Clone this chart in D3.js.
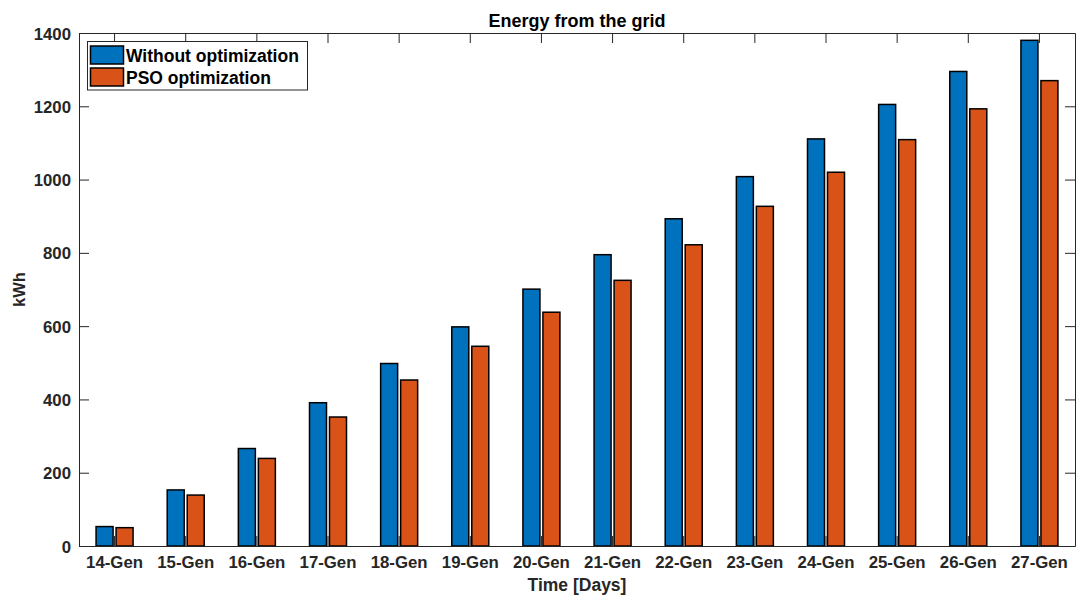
<!DOCTYPE html>
<html>
<head>
<meta charset="utf-8">
<script src="https://cdn.jsdelivr.net/npm/d3@7"></script>
<style>
  body { margin: 0; background: #fff; }
  svg { display: block; font-family: "Liberation Sans", Arial, sans-serif; font-weight: bold; }
</style>
</head>
<body>
<div id="chart"></div>
<script>
// Data
const days = ["14-Gen", "15-Gen", "16-Gen", "17-Gen", "18-Gen", "19-Gen", "20-Gen",
              "21-Gen", "22-Gen", "23-Gen", "24-Gen", "25-Gen", "26-Gen", "27-Gen"];
const series = ["Without optimization", "PSO optimization"];
const withoutOpt = [53, 153, 266, 391, 498, 598, 701, 795, 893, 1008, 1111, 1205, 1295, 1380];
const psoOpt = [50, 139, 239, 352, 453, 545, 638, 725, 822, 927, 1020, 1109, 1193, 1270];
const yTicks = [0, 200, 400, 600, 800, 1000, 1200, 1400];
const colors = ["#0072BD", "#D95319"];

const W = 1076, H = 597;
const margin = {top: 33, right: 1, bottom: 51, left: 79};
const width = W - margin.left - margin.right;
const height = H - margin.top - margin.bottom;

const svg = d3.select("#chart").append("svg")
    .attr("width", W)
    .attr("height", H);

const g = svg.append("g")
    .attr("transform", `translate(${margin.left},${margin.top})`);

// Scales
const x0 = d3.scaleBand().domain(days).range([0, width]);
const bw = x0.bandwidth();
const x1 = d3.scaleBand().domain(series)
    .range([bw / 2 - 18.5, bw / 2 + 18.5])
    .paddingInner(0.15);
const y = d3.scaleLinear().domain([0, 1400]).range([height, 0]);

const rows = days.map((d, i) => ({day: d, values: [withoutOpt[i], psoOpt[i]]}));

// Bars
g.selectAll(".group")
    .data(rows)
    .enter().append("g")
    .attr("class", "group")
    .attr("transform", d => `translate(${x0(d.day)},0)`)
    .selectAll("rect")
    .data(d => d.values.map((v, k) => ({key: series[k], value: v, k})))
    .enter().append("rect")
    .attr("x", d => x1(d.key))
    .attr("width", x1.bandwidth())
    .attr("y", d => y(d.value))
    .attr("height", d => y(0) - y(d.value))
    .attr("fill", d => colors[d.k])
    .attr("stroke", "#000")
    .attr("stroke-width", 1.5);

// Axes (MATLAB-style box with inward ticks)
const axisColor = "#262626";
const tickLen = 10;

const xb = g.append("g")
    .attr("transform", `translate(0,${height})`)
    .call(d3.axisBottom(x0).tickSizeInner(-tickLen).tickSizeOuter(0).tickPadding(10));
const xt = g.append("g")
    .call(d3.axisTop(x0).tickSizeInner(-tickLen).tickSizeOuter(0).tickFormat(""));
const yl = g.append("g")
    .call(d3.axisLeft(y).tickValues(yTicks).tickFormat(d3.format("d"))
        .tickSizeInner(-tickLen).tickSizeOuter(0).tickPadding(8));
const yr = g.append("g")
    .attr("transform", `translate(${width},0)`)
    .call(d3.axisRight(y).tickValues(yTicks).tickSizeInner(-tickLen).tickSizeOuter(0).tickFormat(""));

[xb, xt, yl, yr].forEach(a => {
    a.selectAll("path").attr("stroke", axisColor).attr("stroke-width", 1);
    a.selectAll("line").attr("stroke", axisColor).attr("stroke-width", 1);
    a.selectAll("text")
        .attr("fill", axisColor)
        .style("font-size", "16.8px")
        .style("font-weight", "bold")
        .style("font-family", "'Liberation Sans', Arial, sans-serif");
});
yl.selectAll("text").attr("dy", "0.36em");

// Title
svg.append("text")
    .attr("x", margin.left + width / 2)
    .attr("y", 27)
    .attr("text-anchor", "middle")
    .attr("fill", "#000")
    .style("font-size", "18px")
    .text("Energy from the grid");

// X label
svg.append("text")
    .attr("x", margin.left + width / 2)
    .attr("y", 591)
    .attr("text-anchor", "middle")
    .attr("fill", axisColor)
    .style("font-size", "17.5px")
    .text("Time [Days]");

// Y label
svg.append("text")
    .attr("transform", `translate(25,${margin.top + height / 2}) rotate(-90)`)
    .attr("text-anchor", "middle")
    .attr("fill", axisColor)
    .style("font-size", "16.5px")
    .text("kWh");

// Legend
const legend = svg.append("g");
legend.append("rect")
    .attr("x", 87.5).attr("y", 41.5)
    .attr("width", 220).attr("height", 48.5)
    .attr("fill", "#fff")
    .attr("stroke", axisColor)
    .attr("stroke-width", 1);

series.forEach((s, k) => {
    const ly = 46 + k * 22;
    legend.append("rect")
        .attr("x", 90.5).attr("y", ly)
        .attr("width", 33).attr("height", 18)
        .attr("fill", colors[k])
        .attr("stroke", "#000")
        .attr("stroke-width", 1.5);
    legend.append("text")
        .attr("x", 126)
        .attr("y", ly + 16)
        .attr("fill", "#000")
        .style("font-size", "17.5px")
        .text(s);
});
</script>
</body>
</html>
